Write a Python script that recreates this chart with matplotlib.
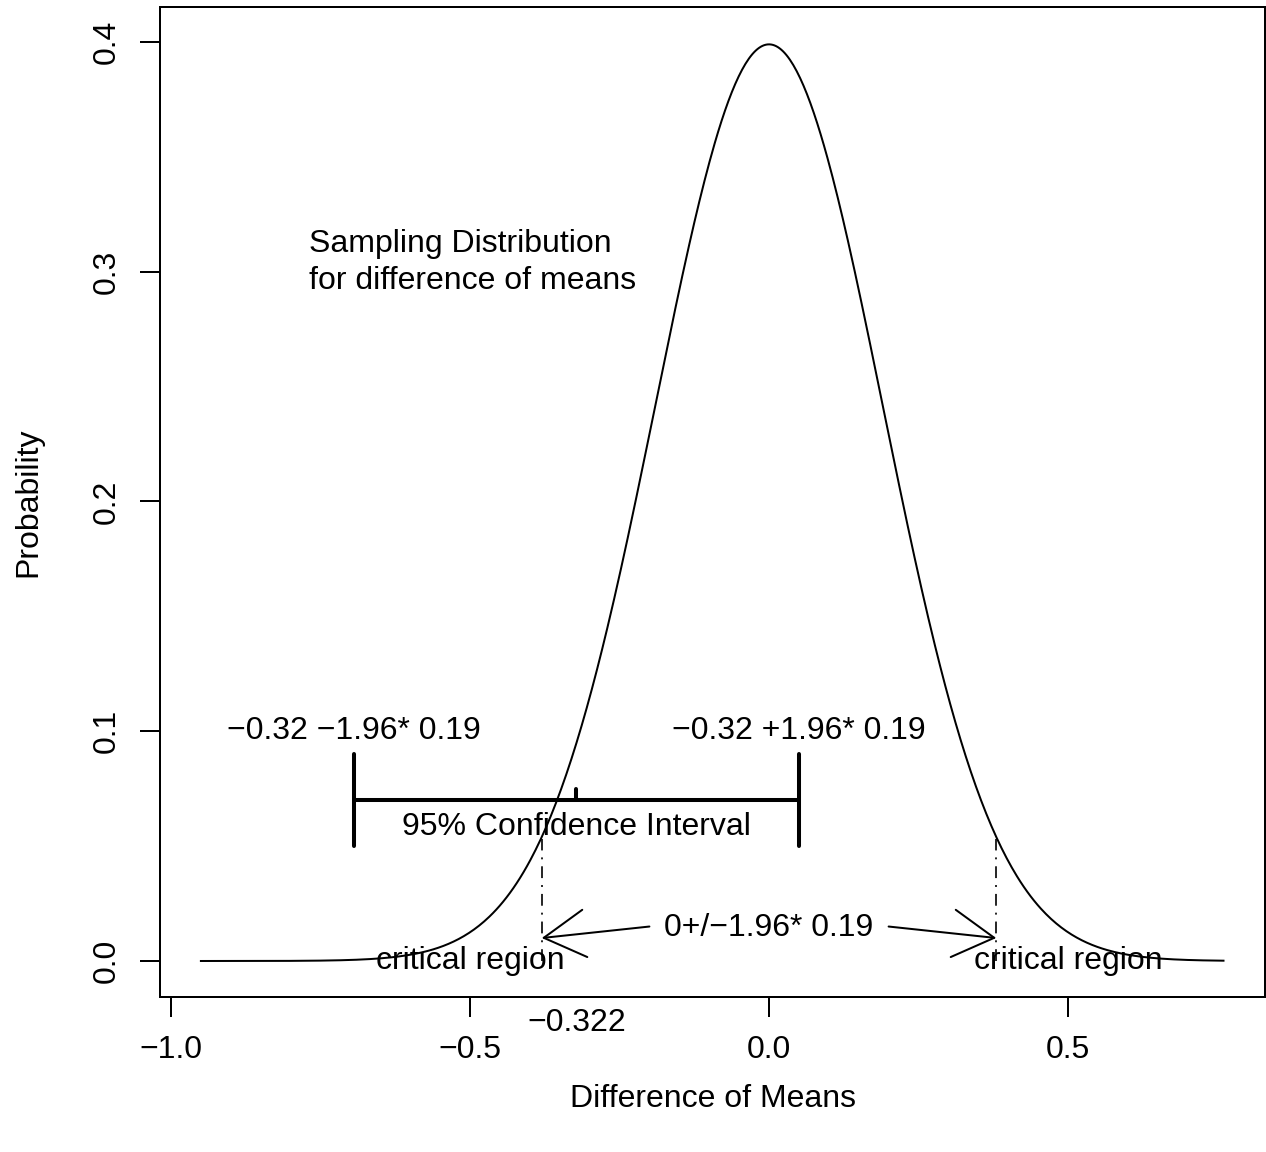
import numpy as np
import matplotlib
matplotlib.use('Agg')
import matplotlib.pyplot as plt

plt.rcParams['font.family'] = ['Liberation Sans', 'DejaVu Sans']
plt.rcParams['font.size'] = 23
plt.rcParams['lines.scale_dashes'] = False

MINUS = '\u2212'

# sampling distribution of the difference of means
diff_mean = -0.322
se = 0.19
z_crit = 1.96
crit_value = 0.38          # edge of the critical region
crit_line_top = 0.053
curve_range = (-0.95, 0.76)

# confidence interval bar
ci_y = 0.07
ci_cap = (0.05, 0.09)
ci_mid_tick = 0.075

x_ticks = [-1.0, -0.5, 0.0, 0.5]
y_ticks = [0.0, 0.1, 0.2, 0.3, 0.4]

lw = 1.44

x = np.linspace(curve_range[0], curve_range[1], 600)
density = np.exp(-0.5 * (x / se) ** 2) / np.sqrt(2 * np.pi)

fig = plt.figure(figsize=(12.66, 11.52), dpi=100)
ax = fig.add_axes([160 / 1266, 155 / 1152, 1105 / 1266, 990 / 1152])

ax.plot(x, density, color='black', lw=lw)

# critical region boundaries
for sign in (-1, 1):
    ax.plot([sign * crit_value] * 2, [0, crit_line_top], color='black', lw=1.2,
            dashes=[8.5, 5, 1.4, 5])

# 95% confidence interval
ci_lo = diff_mean - z_crit * se
ci_hi = diff_mean + z_crit * se
ax.plot([ci_lo, ci_hi], [ci_y, ci_y], color='black', lw=2.9, solid_capstyle='round')
for xe in (ci_lo, ci_hi):
    ax.plot([xe, xe], ci_cap, color='black', lw=2.9, solid_capstyle='round')
ax.plot([diff_mean, diff_mean], [ci_y, ci_mid_tick], color='black', lw=2.9,
        solid_capstyle='round')

ax.text(ci_lo, 0.1, f'{MINUS}0.32 {MINUS}1.96* 0.19', ha='center', va='center')
ax.text(ci_hi, 0.1, f'{MINUS}0.32 +1.96* 0.19', ha='center', va='center')
ax.text(diff_mean, 0.0585, '95% Confidence Interval', ha='center', va='center')

ax.text(-0.769, 0.304, 'Sampling Distribution\nfor difference of means',
        ha='left', va='center', linespacing=1.27)

ax.text(-0.5, 0.0, 'critical region', ha='center', va='center')
ax.text(0.5, 0.0, 'critical region', ha='center', va='center')
ax.text(0.0, 0.0145, f'0+/{MINUS}1.96* 0.19', ha='center', va='center')

arrow_style = '->,head_length=29.7,head_width=17.1'
for sign in (-1, 1):
    ax.annotate('', xy=(sign * crit_value, 0.01), xytext=(sign * 0.2, 0.015),
                arrowprops=dict(arrowstyle=arrow_style, mutation_scale=1, lw=lw,
                                color='black', shrinkA=0, shrinkB=0))

ax.text(diff_mean, -0.027, f'{MINUS}0.322', ha='center', va='center', clip_on=False)

ax.set_xlim(-1.0184, 0.8294)
ax.set_ylim(-0.01567, 0.4152)
ax.set_xticks(x_ticks)
ax.set_xticklabels([f'{v:.1f}'.replace('-', MINUS) for v in x_ticks])
ax.set_yticks(y_ticks)
ax.set_yticklabels([f'{v:.1f}' for v in y_ticks], rotation=90, va='center')
ax.tick_params(length=14.4, width=lw, pad=13, labelsize=23)
for spine in ax.spines.values():
    spine.set_linewidth(lw)

ax.set_xlabel('Difference of Means', va='center')
ax.xaxis.set_label_coords(0.5, -0.103)
ax.set_ylabel('Probability', va='center')
ax.yaxis.set_label_coords(-0.1195, 0.5)

fig.savefig('out.png', dpi=100)
